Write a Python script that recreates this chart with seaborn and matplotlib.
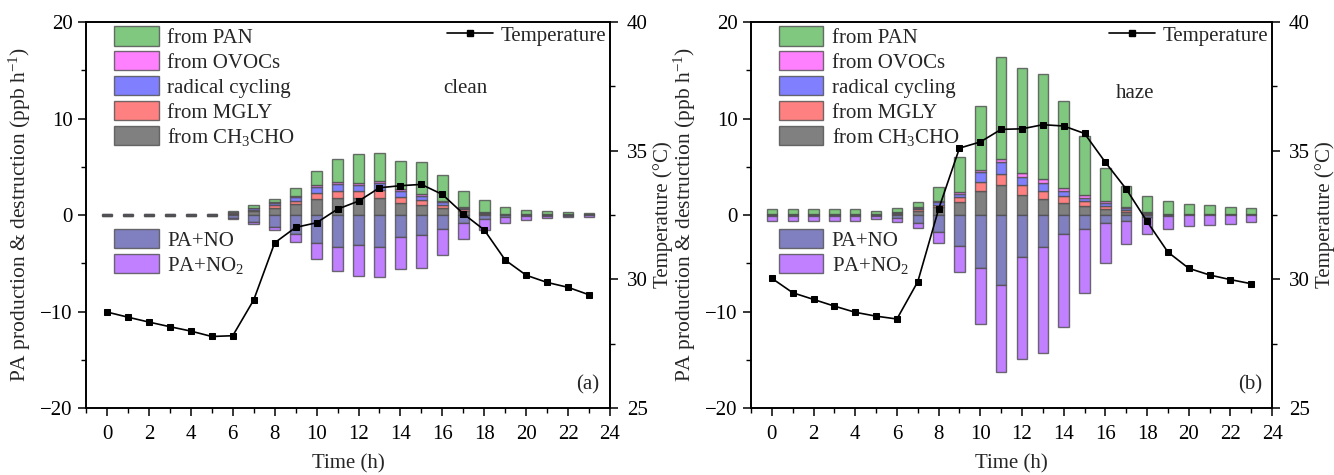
import numpy as np
import matplotlib
matplotlib.use("Agg")
import matplotlib.pyplot as plt
from matplotlib.patches import Patch
from matplotlib.lines import Line2D
from matplotlib.ticker import MultipleLocator
import seaborn as sns

# ---------------- data ----------------
hours = list(range(24))

clean_ch3cho = [0.03, 0.03, 0.03, 0.03, 0.03, 0.03, 0.15, 0.45, 0.69, 1.10, 1.70, 1.75,
                1.75, 1.72, 1.28, 1.03, 0.69, 0.40, 0.12, 0.04, 0.03, 0.02, 0.02, 0.02]
clean_mgly = [0.01, 0.01, 0.01, 0.01, 0.01, 0.01, 0.05, 0.12, 0.30, 0.34, 0.60, 0.70,
              0.70, 0.85, 0.62, 0.52, 0.34, 0.20, 0.08, 0.03, 0.02, 0.02, 0.02, 0.02]
clean_rad = [0.01, 0.01, 0.01, 0.01, 0.01, 0.01, 0.05, 0.15, 0.30, 0.41, 0.65, 0.75,
             0.65, 0.70, 0.55, 0.45, 0.28, 0.15, 0.08, 0.03, 0.02, 0.02, 0.02, 0.02]
clean_ovoc = [0.01, 0.01, 0.01, 0.01, 0.01, 0.01, 0.02, 0.05, 0.10, 0.14, 0.15, 0.20,
              0.25, 0.25, 0.24, 0.17, 0.14, 0.10, 0.06, 0.03, 0.02, 0.02, 0.02, 0.02]
clean_pan = [0.06, 0.06, 0.06, 0.06, 0.06, 0.06, 0.12, 0.22, 0.24, 0.77, 1.45, 2.45,
             3.00, 2.90, 2.93, 3.31, 2.72, 1.67, 1.21, 0.73, 0.43, 0.30, 0.22, 0.16]
clean_pano = [-0.05, -0.05, -0.05, -0.05, -0.05, -0.05, -0.30, -0.70, -1.20, -2.00, -2.93, -3.34,
              -3.10, -3.28, -2.24, -2.07, -1.48, -0.86, -0.45, -0.24, -0.10, -0.06, -0.05, -0.04]
clean_pano2 = [-0.05, -0.05, -0.05, -0.05, -0.05, -0.05, -0.10, -0.28, -0.34, -0.76, -1.62, -2.45,
               -3.20, -3.10, -3.34, -3.38, -2.66, -1.66, -1.10, -0.55, -0.45, -0.29, -0.20, -0.16]
clean_temp = [28.73, 28.53, 28.34, 28.16, 27.99, 27.78, 27.81, 29.20, 31.42, 32.02, 32.20, 32.73,
              33.04, 33.56, 33.64, 33.69, 33.30, 32.55, 31.92, 30.75, 30.16, 29.88, 29.69, 29.40]

haze_ch3cho = [0.05, 0.05, 0.05, 0.05, 0.05, 0.04, 0.15, 0.45, 0.79, 1.38, 2.50, 3.10,
               2.07, 1.66, 1.25, 0.93, 0.60, 0.35, 0.14, 0.02, 0.02, 0.02, 0.02, 0.02]
haze_mgly = [0.02, 0.02, 0.02, 0.02, 0.02, 0.02, 0.06, 0.14, 0.24, 0.45, 0.93, 1.20,
             1.04, 0.86, 0.75, 0.48, 0.35, 0.17, 0.07, 0.02, 0.02, 0.02, 0.02, 0.02]
haze_rad = [0.03, 0.03, 0.03, 0.03, 0.03, 0.02, 0.07, 0.10, 0.28, 0.35, 1.00, 1.15,
            0.85, 0.85, 0.50, 0.34, 0.30, 0.17, 0.08, 0.02, 0.02, 0.02, 0.02, 0.02]
haze_ovoc = [0.02, 0.02, 0.02, 0.02, 0.02, 0.02, 0.06, 0.10, 0.17, 0.17, 0.25, 0.35,
             0.35, 0.40, 0.35, 0.28, 0.20, 0.10, 0.06, 0.02, 0.02, 0.02, 0.02, 0.02]
haze_pan = [0.50, 0.50, 0.48, 0.48, 0.50, 0.35, 0.34, 0.59, 1.38, 3.65, 6.65, 10.60,
            10.95, 10.88, 8.95, 6.17, 3.45, 2.25, 1.62, 1.38, 1.07, 0.93, 0.79, 0.69]
haze_pano = [-0.08, -0.08, -0.08, -0.08, -0.08, -0.07, -0.34, -0.86, -1.79, -3.20, -5.50, -7.20,
             -4.30, -3.30, -2.00, -1.48, -0.86, -0.62, -0.17, -0.05, -0.04, -0.04, -0.04, -0.04]
haze_pano2 = [-0.57, -0.57, -0.55, -0.55, -0.55, -0.38, -0.34, -0.52, -1.07, -2.72, -5.80, -9.10,
              -10.60, -11.00, -9.60, -6.62, -4.07, -2.41, -1.80, -1.43, -1.10, -0.99, -0.86, -0.72]
haze_temp = [30.04, 29.48, 29.22, 28.96, 28.72, 28.57, 28.46, 29.91, 32.73, 35.10, 35.34, 35.83,
             35.85, 36.01, 35.96, 35.67, 34.55, 33.51, 32.25, 31.06, 30.43, 30.17, 29.99, 29.83]

pos_labels = ["from CH$_3$CHO", "from MGLY", "radical cycling", "from OVOCs", "from PAN"]
neg_labels = ["PA+NO", "PA+NO$_2$"]
pos_colors = ["#808080", "#ff8080", "#8080ff", "#ff80ff", "#80c880"]
neg_colors = ["#8080c0", "#c080ff"]

# ---------------- style ----------------
sns.set_theme(style="ticks")
plt.rcParams["font.family"] = ["Liberation Serif", "DejaVu Serif"]
plt.rcParams["mathtext.fontset"] = "custom"
plt.rcParams["mathtext.rm"] = "Liberation Serif"
plt.rcParams["mathtext.it"] = "Liberation Serif:italic"
plt.rcParams["mathtext.bf"] = "Liberation Serif:bold"
plt.rcParams["axes.edgecolor"] = "black"
plt.rcParams["xtick.color"] = "black"
plt.rcParams["ytick.color"] = "black"

FS = 15
fig = plt.figure(figsize=(13.34, 4.75), dpi=100)
ax_a = fig.add_axes([0.0645, 0.141, 0.3928, 0.8126])
ax_b = fig.add_axes([0.563, 0.141, 0.3906, 0.8126])

edge = (0.3, 0.3, 0.3, 0.8)


def draw_panel(ax, pos_series, neg_series, temp, tag, panel_label, tag_xy):
    x = np.array(hours, dtype=float)
    base = np.zeros(len(hours))
    for vals, col, lab in zip(pos_series, pos_colors, pos_labels):
        v = np.array(vals)
        ax.bar(x, v, bottom=base, width=0.5, color=col, edgecolor=edge, linewidth=1.0, label=lab, zorder=2)
        base = base + v
    base = np.zeros(len(hours))
    for vals, col, lab in zip(neg_series, neg_colors, neg_labels):
        v = np.array(vals)
        ax.bar(x, v, bottom=base, width=0.5, color=col, edgecolor=edge, linewidth=1.0, label=lab, zorder=2)
        base = base + v

    ax.set_xlim(-1, 24)
    ax.set_ylim(-20, 20)
    ax.xaxis.set_major_locator(MultipleLocator(2))
    ax.xaxis.set_minor_locator(MultipleLocator(1))
    ax.yaxis.set_major_locator(MultipleLocator(10))
    ax.yaxis.set_minor_locator(MultipleLocator(5))
    ax.tick_params(axis="both", which="major", direction="out", length=6, width=1.1, labelsize=FS)
    ax.tick_params(axis="x", which="major", pad=6)
    ax.tick_params(axis="both", which="minor", direction="out", length=3.5, width=1.0)
    ax.tick_params(top=False, right=False, which="both")
    for s in ax.spines.values():
        s.set_visible(True)
        s.set_linewidth(1.2)
        s.set_color("black")
    ax.set_xlabel("Time (h)", fontsize=FS)
    ax.xaxis.set_label_coords(0.5, -0.12)
    ax.set_ylabel("PA production & destruction (ppb h$^{-1}$)", fontsize=FS + 0.5)
    ax.yaxis.set_label_coords(-0.101, 0.5)

    ax2 = ax.twinx()
    sns.lineplot(x=hours, y=temp, ax=ax2, color="black", marker="s", markersize=5,
                 markeredgecolor="black", linewidth=1.2, legend=False, zorder=5)
    ax2.set_ylim(25, 40)
    ax2.yaxis.set_major_locator(MultipleLocator(5))
    ax2.yaxis.set_minor_locator(MultipleLocator(2.5))
    ax2.tick_params(axis="y", which="major", direction="out", length=6, width=1.1, labelsize=FS, pad=6)
    ax2.tick_params(axis="y", which="minor", direction="out", length=3.5, width=1.0)
    ax2.set_ylabel("Temperature (\u00b0C)", fontsize=FS)
    ax2.yaxis.set_label_coords(1.082, 0.5)
    for s in ax2.spines.values():
        s.set_linewidth(1.2)
        s.set_color("black")

    # legends
    h_pos = [Patch(facecolor=c, edgecolor=edge, linewidth=1.0, label=l)
             for c, l in zip(pos_colors[::-1], pos_labels[::-1])]
    h_neg = [Patch(facecolor=c, edgecolor=edge, linewidth=1.0, label=l)
             for c, l in zip(neg_colors, neg_labels)]
    leg1 = ax2.legend(handles=h_pos, loc="upper left", bbox_to_anchor=(0.045, 1.0), frameon=False,
                      fontsize=FS, handlelength=2.15, handleheight=1.05, labelspacing=0.15,
                      handletextpad=0.4, borderpad=0.2, borderaxespad=0)
    ax2.add_artist(leg1)
    leg2 = ax2.legend(handles=h_neg, loc="upper left", bbox_to_anchor=(0.045, 0.475), frameon=False,
                      fontsize=FS, handlelength=2.15, handleheight=1.05, labelspacing=0.15,
                      handletextpad=0.4, borderpad=0.2, borderaxespad=0)
    ax2.add_artist(leg2)
    h_t = [Line2D([0], [0], color="black", marker="s", markersize=5, linewidth=1.2, label="Temperature")]
    ax2.legend(handles=h_t, loc="upper right", bbox_to_anchor=(1.0, 1.0), frameon=False,
               fontsize=FS, handlelength=2.2, handletextpad=0.35, borderpad=0.2, borderaxespad=0)

    ax.text(tag_xy[0], tag_xy[1], tag, transform=ax.transAxes, fontsize=FS, ha="center", va="center")
    ax.text(0.958, 0.06, panel_label, transform=ax.transAxes, fontsize=FS, ha="center", va="center")


draw_panel(ax_a,
           [clean_ch3cho, clean_mgly, clean_rad, clean_ovoc, clean_pan],
           [clean_pano, clean_pano2], clean_temp, "clean", "(a)", (0.723, 0.829))
draw_panel(ax_b,
           [haze_ch3cho, haze_mgly, haze_rad, haze_ovoc, haze_pan],
           [haze_pano, haze_pano2], haze_temp, "haze", "(b)", (0.737, 0.816))

fig.savefig("out.png", dpi=100)
